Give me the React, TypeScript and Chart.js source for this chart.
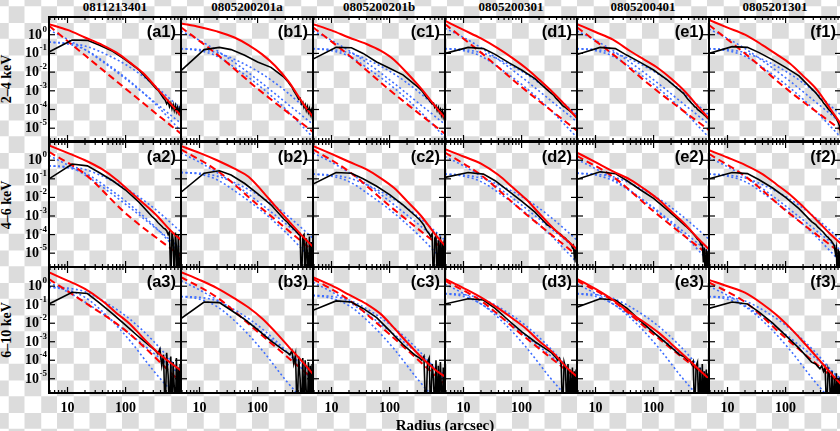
import React, { useEffect, useRef } from "react";
import { Chart, registerables } from "chart.js";

Chart.register(...registerables);

// ---------- text ----------
const OBS_IDS = ["0811213401", "0805200201a", "0805200201b", "0805200301", "0805200401", "0805201301"];
const BAND_LABELS = ["2–4 keV", "4–6 keV", "6–10 keV"];
const PANEL_TAGS = [
  "(a1)", "(b1)", "(c1)", "(d1)", "(e1)", "(f1)",
  "(a2)", "(b2)", "(c2)", "(d2)", "(e2)", "(f2)",
  "(a3)", "(b3)", "(c3)", "(d3)", "(e3)", "(f3)",
];
const X_TITLE = "Radius (arcsec)";

// ---------- ticks ----------
const X_MAJOR_TICKS = [10, 100];
const X_MAJOR_LABELS = ["10", "100"];
const X_MINOR_TICKS = [5, 6, 7, 8, 9, 20, 30, 40, 50, 60, 70, 80, 90, 200, 300, 400, 500, 600, 700, 800, 900];
const Y_TICKS = [1, 0.1, 0.01, 1e-3, 1e-4, 1e-5];
const Y_TICK_EXPONENTS = ["0", "-1", "-2", "-3", "-4", "-5"];

// ---------- radii (arcsec) ----------
const R_MODEL = [4.8, 10, 20, 40, 70, 120, 200, 350, 600, 900];
const R_DASH = [4.8, 20, 100, 900];
const R_BLUE = [4.8, 10, 20, 50, 120, 300, 900];
const R_OBS = [4.8, 12, 22, 35, 60, 100, 170, 280,
  330, 360, 390, 420, 450, 480, 510, 540, 570, 600, 630, 660, 690, 720, 750, 780, 810, 840, 870, 900];

// ---------- series (panels a1..f1, a2..f2, a3..f3) ----------
const TOTAL_MODEL = [
  [3.7, 1.8, 0.71, 0.28, 0.11, 0.032, 8.9e-3, 1.3e-3, 2.0e-4, 4.5e-5],
  [4.0, 2.6, 1.5, 0.71, 0.28, 0.089, 0.022, 2.8e-3, 2.2e-4, 4.0e-5],
  [3.7, 1.7, 0.71, 0.32, 0.14, 0.045, 8.9e-3, 1.3e-3, 1.6e-4, 3.5e-5],
  [5.6, 1.8, 0.63, 0.18, 0.056, 0.016, 4.0e-3, 7.9e-4, 1.4e-4, 3.5e-5],
  [3.7, 1.4, 0.54, 0.13, 0.045, 0.016, 4.5e-3, 8.9e-4, 1.3e-4, 3.2e-5],
  [6.2, 2.4, 1.0, 0.28, 0.089, 0.028, 6.3e-3, 1.1e-3, 1.0e-4, 1.6e-5],
  [6.3, 2.5, 1.0, 0.32, 0.089, 0.02, 5.0e-3, 1.0e-3, 1.6e-4, 5.0e-5],
  [5.9, 2.5, 1.0, 0.35, 0.13, 0.022, 3.5e-3, 5.0e-4, 7.9e-5, 2.2e-5],
  [5.9, 2.2, 0.83, 0.32, 0.11, 0.032, 6.3e-3, 1.0e-3, 1.1e-4, 2.5e-5],
  [3.9, 1.6, 0.66, 0.16, 0.035, 7.9e-3, 1.4e-3, 2.2e-4, 5.0e-5, 1.6e-5],
  [2.6, 0.79, 0.25, 0.089, 0.028, 7.9e-3, 1.8e-3, 3.5e-4, 5.6e-5, 1.6e-5],
  [3.5, 1.4, 0.56, 0.18, 0.05, 0.014, 3.2e-3, 5.6e-4, 1.0e-4, 3.2e-5],
  [5.5, 2.0, 0.71, 0.16, 0.035, 8.9e-3, 1.6e-3, 2.8e-4, 7.1e-5, 2.8e-5],
  [5.8, 2.2, 0.79, 0.22, 0.071, 0.018, 3.5e-3, 5.0e-4, 7.9e-5, 1.8e-5],
  [3.1, 1.1, 0.35, 0.11, 0.032, 5.4e-3, 9.3e-4, 1.5e-4, 3.2e-5, 1.3e-5],
  [2.5, 0.79, 0.25, 0.063, 0.018, 5.0e-3, 1.1e-3, 2.5e-4, 4.0e-5, 1.3e-5],
  [2.5, 0.71, 0.18, 0.035, 0.011, 3.2e-3, 7.9e-4, 1.6e-4, 3.2e-5, 1.0e-5],
  [2.2, 1.0, 0.45, 0.11, 0.028, 5.6e-3, 1.0e-3, 1.4e-4, 2.0e-5, 5.0e-6],
];

const POINT_SOURCE = [
  [3.0, 0.079, 1.3e-3, 5.0e-6],
  [2.5, 0.089, 1.3e-3, 6.3e-6],
  [2.5, 0.079, 1.1e-3, 5.0e-6],
  [3.7, 0.11, 1.6e-3, 7.4e-6],
  [2.5, 0.089, 1.4e-3, 7.9e-6],
  [3.3, 0.1, 1.4e-3, 7.9e-6],
  [2.8, 0.18, 1.4e-3, 6.8e-6],
  [3.9, 0.28, 4.0e-3, 1.3e-5],
  [3.9, 0.25, 3.5e-3, 1.4e-5],
  [2.6, 0.16, 2.0e-3, 7.6e-6],
  [1.7, 0.13, 1.8e-3, 7.6e-6],
  [2.2, 0.14, 2.0e-3, 1.0e-5],
  [2.4, 0.13, 4.0e-3, 6.3e-6],
  [3.1, 0.25, 3.5e-3, 1.0e-5],
  [2.5, 0.18, 2.5e-3, 5.0e-6],
  [2.0, 0.16, 2.5e-3, 1.0e-5],
  [2.0, 0.16, 2.5e-3, 1.0e-5],
  [1.6, 0.14, 1.6e-3, 5.0e-6],
];

const COMPONENT_1 = [
  [1.8, 0.56, 0.16, 0.022, 2.8e-3, 2.8e-4, 1.8e-5],
  [1.6, 0.5, 0.14, 0.02, 2.5e-3, 2.5e-4, 1.6e-5],
  [1.6, 0.5, 0.14, 0.02, 2.5e-3, 2.5e-4, 1.6e-5],
  [2.2, 0.71, 0.2, 0.028, 3.5e-3, 3.5e-4, 2.2e-5],
  [1.6, 0.5, 0.14, 0.02, 2.5e-3, 2.5e-4, 1.6e-5],
  [2.0, 0.63, 0.18, 0.025, 3.2e-3, 3.2e-4, 2.0e-5],
  [1.8, 0.56, 0.16, 0.022, 2.8e-3, 2.8e-4, 1.8e-5],
  [2.5, 0.79, 0.22, 0.032, 4.0e-3, 4.0e-4, 2.5e-5],
  [2.5, 0.79, 0.22, 0.032, 4.0e-3, 4.0e-4, 2.5e-5],
  [1.6, 0.5, 0.14, 0.02, 2.5e-3, 2.5e-4, 1.6e-5],
  [1.1, 0.35, 0.1, 0.014, 1.8e-3, 1.8e-4, 1.1e-5],
  [1.4, 0.45, 0.13, 0.018, 2.2e-3, 2.2e-4, 1.4e-5],
  [1.6, 0.5, 0.14, 0.02, 2.5e-3, 2.5e-4, 1.6e-5],
  [2.0, 0.63, 0.18, 0.025, 3.2e-3, 3.2e-4, 2.0e-5],
  [1.6, 0.5, 0.14, 0.02, 2.5e-3, 2.5e-4, 1.6e-5],
  [1.3, 0.4, 0.11, 0.016, 2.0e-3, 2.0e-4, 1.3e-5],
  [1.3, 0.4, 0.11, 0.016, 2.0e-3, 2.0e-4, 1.3e-5],
  [1.0, 0.32, 0.089, 0.013, 1.6e-3, 1.6e-4, 1.0e-5],
];

const COMPONENT_2 = [
  [0.4, 0.35, 0.25, 0.079, 0.018, 2.2e-3, 1.1e-4],
  [0.18, 0.16, 0.11, 0.035, 7.9e-3, 1.0e-3, 5.0e-5],
  [0.18, 0.16, 0.11, 0.035, 7.9e-3, 1.0e-3, 5.0e-5],
  [0.18, 0.16, 0.11, 0.035, 7.9e-3, 1.0e-3, 5.0e-5],
  [0.18, 0.16, 0.11, 0.035, 7.9e-3, 1.0e-3, 5.0e-5],
  [0.18, 0.16, 0.11, 0.035, 7.9e-3, 1.0e-3, 5.0e-5],
  [0.5, 0.45, 0.32, 0.1, 0.022, 2.8e-3, 1.4e-4],
  [0.22, 0.2, 0.14, 0.045, 0.01, 1.3e-3, 6.3e-5],
  [0.18, 0.16, 0.11, 0.035, 7.9e-3, 1.0e-3, 5.0e-5],
  [0.18, 0.16, 0.11, 0.035, 7.9e-3, 1.0e-3, 5.0e-5],
  [0.2, 0.18, 0.13, 0.04, 8.9e-3, 1.1e-3, 5.6e-5],
  [0.18, 0.16, 0.11, 0.035, 7.9e-3, 1.0e-3, 5.0e-5],
  [0.89, 0.79, 0.5, 0.11, 0.016, 1.1e-3, 2.2e-5],
  [0.28, 0.25, 0.16, 0.035, 5.0e-3, 3.5e-4, 7.1e-6],
  [0.32, 0.28, 0.18, 0.04, 5.6e-3, 4.0e-4, 7.9e-6],
  [0.4, 0.35, 0.22, 0.05, 7.1e-3, 5.0e-4, 1.0e-5],
  [0.4, 0.35, 0.22, 0.05, 7.1e-3, 5.0e-4, 1.0e-5],
  [0.28, 0.25, 0.16, 0.035, 5.0e-3, 3.5e-4, 7.1e-6],
];

const COMPONENT_3 = [
  [0.4, 0.32, 0.16, 0.025, 3.2e-3, 2.5e-4, 7.1e-6],
  [0.18, 0.14, 0.071, 0.011, 1.4e-3, 1.1e-4, 3.2e-6],
  [0.18, 0.14, 0.071, 0.011, 1.4e-3, 1.1e-4, 3.2e-6],
  [0.18, 0.14, 0.071, 0.011, 1.4e-3, 1.1e-4, 3.2e-6],
  [0.18, 0.14, 0.071, 0.011, 1.4e-3, 1.1e-4, 3.2e-6],
  [0.18, 0.14, 0.071, 0.011, 1.4e-3, 1.1e-4, 3.2e-6],
  [0.5, 0.4, 0.2, 0.032, 4.0e-3, 3.2e-4, 8.9e-6],
  [0.22, 0.18, 0.089, 0.014, 1.8e-3, 1.4e-4, 4.0e-6],
  [0.18, 0.14, 0.071, 0.011, 1.4e-3, 1.1e-4, 3.2e-6],
  [0.18, 0.14, 0.071, 0.011, 1.4e-3, 1.1e-4, 3.2e-6],
  [0.2, 0.16, 0.079, 0.013, 1.6e-3, 1.3e-4, 3.5e-6],
  [0.18, 0.14, 0.071, 0.011, 1.4e-3, 1.1e-4, 3.2e-6],
  [0.89, 0.63, 0.25, 0.022, 1.1e-3, 2.8e-5, 5.6e-7],
  [0.28, 0.2, 0.079, 7.1e-3, 3.5e-4, 8.9e-6, 1.8e-7],
  [0.32, 0.22, 0.089, 7.9e-3, 4.0e-4, 1.0e-5, 2.0e-7],
  [0.4, 0.28, 0.11, 0.01, 5.0e-4, 1.3e-5, 2.5e-7],
  [0.4, 0.28, 0.11, 0.01, 5.0e-4, 1.3e-5, 2.5e-7],
  [0.28, 0.2, 0.079, 7.1e-3, 3.5e-4, 8.9e-6, 1.8e-7],
];

const OBSERVED = [
  [0.12, 0.52, 0.5, 0.28, 0.13, 0.045, 0.013, 2.5e-3,
    1.4e-3, 1.1e-3, 7.9e-4, 5.6e-4, 4.0e-4, 3.2e-4, 2.0e-4, 2.8e-4, 1.4e-4, 2.2e-4, 1.1e-4, 1.8e-4, 8.9e-5, 1.6e-4, 7.9e-5, 1.3e-4, 7.1e-5, 1.1e-4, 6.3e-5, 8.9e-5],
  [0.012, 0.16, 0.21, 0.16, 0.079, 0.035, 0.018, 5.6e-3,
    3.2e-3, 2.2e-3, 1.6e-3, 1.0e-3, 7.1e-4, 5.0e-4, 3.5e-4, 4.0e-4, 2.0e-4, 2.5e-4, 1.3e-4, 1.8e-4, 8.9e-5, 1.4e-4, 7.1e-5, 1.1e-4, 5.6e-5, 8.9e-5, 4.5e-5, 6.3e-5],
  [0.05, 0.21, 0.2, 0.1, 0.035, 0.016, 7.1e-3, 2.0e-3,
    1.3e-3, 1.0e-3, 7.1e-4, 5.0e-4, 4.0e-4, 3.2e-4, 2.5e-4, 2.0e-4, 2.2e-4, 1.3e-4, 1.6e-4, 8.9e-5, 1.3e-4, 7.1e-5, 1.0e-4, 5.0e-5, 7.9e-5, 4.0e-5, 6.3e-5, 3.5e-5],
  [0.1, 0.21, 0.18, 0.089, 0.032, 0.013, 4.5e-3, 1.1e-3,
    7.1e-4, 5.6e-4, 4.0e-4, 3.2e-4, 2.5e-4, 2.0e-4, 1.6e-4, 1.4e-4, 1.3e-4, 1.1e-4, 1.0e-4, 8.9e-5, 7.9e-5, 7.1e-5, 6.3e-5, 5.6e-5, 5.0e-5, 4.5e-5, 4.0e-5, 3.5e-5],
  [0.087, 0.21, 0.18, 0.079, 0.032, 0.013, 4.0e-3, 1.1e-3,
    7.1e-4, 5.0e-4, 3.5e-4, 2.8e-4, 2.2e-4, 1.8e-4, 1.4e-4, 1.3e-4, 1.0e-4, 8.9e-5, 7.9e-5, 7.1e-5, 6.3e-5, 5.6e-5, 5.0e-5, 4.5e-5, 4.0e-5, 3.5e-5, 3.2e-5, 2.8e-5],
  [0.1, 0.23, 0.21, 0.11, 0.045, 0.018, 6.3e-3, 1.3e-3,
    7.9e-4, 5.6e-4, 4.0e-4, 3.2e-4, 2.2e-4, 1.8e-4, 1.4e-4, 1.1e-4, 8.9e-5, 7.9e-5, 6.3e-5, 5.6e-5, 4.5e-5, 4.0e-5, 3.2e-5, 2.5e-5, 2.0e-5, 1.4e-5, 7.9e-6, 3.2e-6],
  [0.1, 0.63, 0.5, 0.22, 0.079, 0.025, 5.6e-3, 1.0e-3,
    6.3e-4, 4.5e-4, 3.5e-4, 2.8e-4, 2.2e-4, 2.0e-4, 1.6e-4, 1.0e-4, 1.4e-4, 3.2e-7, 1.3e-4, 5.0e-5, 1e-7, 1.3e-4, 2.0e-5, 1e-7, 1.0e-4, 2.5e-6, 1e-7, 6.3e-5],
  [0.019, 0.2, 0.27, 0.16, 0.056, 0.016, 4.0e-3, 7.1e-4,
    4.5e-4, 3.2e-4, 2.5e-4, 2.0e-4, 1.6e-4, 1.3e-4, 1.0e-4, 1.1e-4, 1e-7, 7.9e-5, 1.0e-4, 1e-7, 6.3e-5, 1.0e-5, 1e-7, 7.9e-5, 1e-7, 4.0e-5, 1e-7, 3.2e-5],
  [0.052, 0.22, 0.2, 0.1, 0.04, 0.014, 4.0e-3, 1.0e-3,
    6.3e-4, 4.5e-4, 3.2e-4, 2.0e-4, 1.4e-4, 1.1e-4, 7.9e-5, 1.1e-4, 1e-7, 6.3e-5, 8.9e-5, 1e-7, 5.0e-5, 1e-6, 7.9e-5, 1e-7, 4.0e-5, 1e-7, 5.0e-5, 1e-7],
  [0.12, 0.22, 0.18, 0.079, 0.022, 6.3e-3, 1.6e-3, 3.2e-4,
    2.5e-4, 2.0e-4, 1.6e-4, 1.3e-4, 1.1e-4, 1.0e-4, 7.9e-5, 7.1e-5, 6.3e-5, 5.0e-5, 4.5e-5, 4.0e-5, 3.2e-5, 2.8e-5, 2.0e-5, 2.5e-5, 6.3e-6, 1.6e-5, 3.2e-6, 1.3e-5],
  [0.095, 0.24, 0.19, 0.079, 0.025, 8.9e-3, 2.2e-3, 5.6e-4,
    3.5e-4, 2.8e-4, 2.2e-4, 1.8e-4, 1.4e-4, 1.1e-4, 8.9e-5, 7.1e-5, 5.6e-5, 5.0e-5, 4.0e-5, 2.8e-5, 3.2e-5, 3.2e-6, 2.0e-5, 1e-7, 1.6e-5, 1e-7, 1.3e-5, 1e-7],
  [0.1, 0.22, 0.19, 0.089, 0.032, 0.01, 2.5e-3, 5.0e-4,
    3.5e-4, 2.5e-4, 2.0e-4, 1.6e-4, 1.3e-4, 1.0e-4, 7.9e-5, 7.1e-5, 5.6e-5, 5.0e-5, 4.0e-5, 3.2e-5, 2.5e-5, 1.0e-5, 2.0e-5, 1e-7, 1.6e-5, 1e-7, 1.3e-5, 1e-7],
  [0.11, 0.47, 0.4, 0.13, 0.032, 7.9e-3, 1.8e-3, 5.0e-4,
    3.2e-4, 2.2e-4, 4.0e-4, 5.0e-5, 2.0e-4, 1e-7, 2.5e-4, 1.6e-5, 1e-7, 1.6e-4, 1e-7, 7.9e-5, 3.2e-6, 1e-7, 1.3e-4, 1e-7, 4.0e-5, 1e-7, 6.3e-5, 1e-7],
  [0.018, 0.14, 0.13, 0.05, 0.016, 4.5e-3, 1.1e-3, 3.5e-4,
    2.5e-4, 2.0e-4, 3.2e-4, 6.3e-5, 2.0e-4, 1e-7, 1.6e-4, 1.0e-5, 1e-7, 1.3e-4, 1e-7, 1.0e-4, 1.6e-6, 1e-7, 7.9e-5, 1e-7, 5.0e-5, 1e-7, 6.3e-5, 1e-7],
  [0.05, 0.16, 0.14, 0.063, 0.02, 4.0e-3, 7.1e-4, 1.8e-4,
    1.3e-4, 1.0e-4, 1.6e-4, 1e-7, 7.9e-5, 1.3e-4, 1e-7, 6.3e-5, 1.0e-5, 1e-7, 1.0e-4, 1e-7, 5.0e-5, 1e-7, 7.9e-5, 3.2e-6, 1e-7, 4.0e-5, 1e-7, 3.2e-5],
  [0.11, 0.21, 0.18, 0.063, 0.014, 3.5e-3, 1.0e-3, 3.5e-4,
    2.5e-4, 1.8e-4, 1.4e-4, 1.0e-4, 1.3e-4, 6.3e-5, 1e-7, 7.9e-5, 4.0e-5, 1e-7, 6.3e-5, 1e-7, 3.2e-5, 1e-7, 4.0e-5, 1e-7, 2.5e-5, 1e-7, 3.2e-5, 1e-7],
  [0.074, 0.21, 0.18, 0.063, 0.013, 3.2e-3, 7.9e-4, 2.0e-4,
    1.6e-4, 1.3e-4, 1.0e-4, 1.1e-4, 6.3e-5, 8.9e-5, 1e-7, 5.0e-5, 7.9e-5, 1e-7, 4.0e-5, 1e-7, 6.3e-5, 1e-7, 2.5e-5, 1e-7, 3.2e-5, 1e-7, 2.0e-5, 1e-7],
  [0.063, 0.14, 0.11, 0.04, 0.01, 2.2e-3, 4.5e-4, 7.9e-5,
    6.3e-5, 4.5e-5, 3.5e-5, 5.0e-5, 2.5e-5, 4.0e-5, 1e-7, 3.2e-5, 1.6e-5, 1e-7, 2.5e-5, 1e-7, 1.3e-5, 1e-7, 2.0e-5, 1e-7, 1.0e-5, 1e-7, 1.3e-5, 1e-7],
];

// ---------- layout / style (not data) ----------
const GRID_LEFT = 49;
const PANEL_W = 132;
const ROW_TOP = [17, 142, 267];
const ROW_H = [124, 125, 126];
const X_MIN = 4.8;
const X_MAX = 900;
const Y_MAX = [8.85, 9.6, 10.9];
const Y_MIN = [2.07e-6, 1.8e-6, 1.7e-6];
const SERIF = "'Liberation Serif', 'Times New Roman', serif";
const SANS = "'Liberation Sans', Arial, sans-serif";
const RED = "#ff0000";
const BLUE = "#3f6fff";

const pts = (xs: number[], ys: number[]) => xs.map((x, k) => ({ x, y: ys[k] }));

const framePlugin = {
  id: "panelFrame",
  afterDatasetsDraw(chart: any) {
    const o = chart.options.plugins.panelFrame;
    const { ctx, chartArea: a, scales } = chart;
    const xs = scales.x;
    const ys = scales.y;
    ctx.save();
    ctx.strokeStyle = "#000";
    ctx.lineWidth = 1.2;
    const line = (x1: number, y1: number, x2: number, y2: number) => {
      ctx.beginPath();
      ctx.moveTo(x1, y1);
      ctx.lineTo(x2, y2);
      ctx.stroke();
    };
    for (const v of X_MAJOR_TICKS) {
      const px = xs.getPixelForValue(v);
      line(px, a.bottom, px, a.bottom - 6);
      line(px, a.top, px, a.top + 6);
    }
    for (const v of X_MINOR_TICKS) {
      const px = xs.getPixelForValue(v);
      if (px <= a.left + 1 || px >= a.right - 1) continue;
      line(px, a.bottom, px, a.bottom - 3);
      line(px, a.top, px, a.top + 3);
    }
    for (const v of Y_TICKS) {
      const py = ys.getPixelForValue(v);
      line(a.left, py, a.left + 6, py);
      line(a.right, py, a.right - 6, py);
    }
    ctx.lineWidth = 2;
    ctx.strokeRect(a.left, a.top, a.right - a.left, a.bottom - a.top);

    ctx.fillStyle = "#000";
    ctx.font = `bold 16.5px ${SANS}`;
    ctx.textAlign = "right";
    ctx.textBaseline = "alphabetic";
    ctx.fillText(o.tag, a.right - 5, a.top + 20);

    if (o.col === 0) {
      Y_TICKS.forEach((v, k) => {
        const py = ys.getPixelForValue(v);
        ctx.font = `bold 9px ${SERIF}`;
        const exp = Y_TICK_EXPONENTS[k];
        const wExp = ctx.measureText(exp).width;
        ctx.textAlign = "right";
        ctx.fillText(exp, a.left - 2, py - 3);
        ctx.font = `bold 14px ${SERIF}`;
        ctx.fillText("10", a.left - 2.5 - wExp, py + 4);
      });
    }
    if (o.row === 2) {
      ctx.font = `bold 14px ${SERIF}`;
      ctx.textAlign = "center";
      X_MAJOR_TICKS.forEach((v, k) => {
        const px = xs.getPixelForValue(v);
        ctx.fillText(X_MAJOR_LABELS[k], px, a.bottom + 19);
      });
    }
    ctx.restore();
  },
};

function Panel({ col, row }: { col: number; row: number }) {
  const ref = useRef<HTMLCanvasElement>(null);
  const padL = col === 0 ? GRID_LEFT : 2;
  const padR = 2;
  const padT = 2;
  const padB = row === 2 ? 38 : 2;
  const w = PANEL_W + padL + padR;
  const h = ROW_H[row] + padT + padB;
  const left = GRID_LEFT + PANEL_W * col - padL;
  const top = ROW_TOP[row] - padT;

  useEffect(() => {
    const i = row * 6 + col;
    const blue = (data: number[]) => ({
      data: pts(R_BLUE, data),
      borderColor: BLUE,
      borderWidth: 1.6,
      borderDash: [2, 2.5],
      cubicInterpolationMode: "monotone",
    });
    const chart = new Chart(ref.current as HTMLCanvasElement, {
      type: "line",
      data: {
        datasets: [
          {
            data: pts(R_MODEL, TOTAL_MODEL[i]),
            borderColor: RED,
            borderWidth: 2,
            cubicInterpolationMode: "monotone",
          },
          {
            data: pts(R_OBS, OBSERVED[i]),
            borderColor: "#000",
            borderWidth: 1.6,
          },
          {
            data: pts(R_DASH, POINT_SOURCE[i]),
            borderColor: RED,
            borderWidth: 2,
            borderDash: [7, 4],
            cubicInterpolationMode: "monotone",
          },
          blue(COMPONENT_1[i]),
          blue(COMPONENT_2[i]),
          blue(COMPONENT_3[i]),
        ],
      },
      options: {
        responsive: false,
        animation: false,
        events: [],
        elements: { point: { radius: 0 }, line: { tension: 0, fill: false } },
        layout: { padding: { left: 0, right: padR, top: padT, bottom: 0 } },
        plugins: {
          legend: { display: false },
          tooltip: { enabled: false },
          title: { display: false },
          panelFrame: { col, row, tag: PANEL_TAGS[i] },
        } as any,
        scales: {
          x: {
            type: "logarithmic",
            min: X_MIN,
            max: X_MAX,
            ticks: { display: false },
            grid: { display: false },
            border: { display: false },
            afterFit: (s: any) => {
              s.height = padB;
            },
          },
          y: {
            type: "logarithmic",
            min: Y_MIN[row],
            max: Y_MAX[row],
            ticks: { display: false },
            grid: { display: false },
            border: { display: false },
            afterFit: (s: any) => {
              s.width = padL;
            },
          },
        },
      },
      plugins: [framePlugin],
    } as any);
    return () => chart.destroy();
  }, []);

  return (
    <canvas
      ref={ref}
      width={w}
      height={h}
      style={{ position: "absolute", left, top, width: w, height: h, display: "block" }}
    />
  );
}

export default function App() {
  const panels = [];
  for (let row = 0; row < 3; row++) {
    for (let col = 0; col < 6; col++) {
      panels.push(<Panel key={`${row}-${col}`} col={col} row={row} />);
    }
  }
  return (
    <div
      style={{
        position: "absolute",
        left: 0,
        top: 0,
        width: 840,
        height: 431,
        overflow: "hidden",
        backgroundColor: "#ffffff",
        backgroundImage:
          "conic-gradient(#dcdcdc 25%, transparent 0 50%, #dcdcdc 0 75%, transparent 0)",
        backgroundSize: "32.5px 32.5px",
        backgroundPosition: "24.5px 6.25px",
      }}
    >
      {OBS_IDS.map((t, c) => (
        <div
          key={t}
          style={{
            position: "absolute",
            left: GRID_LEFT + PANEL_W * c,
            top: 0,
            width: PANEL_W,
            textAlign: "center",
            font: `bold 13px ${SERIF}`,
            lineHeight: "13px",
            color: "#000",
            whiteSpace: "nowrap",
          }}
        >
          {t}
        </div>
      ))}
      {BAND_LABELS.map((t, r) => (
        <div
          key={t}
          style={{
            position: "absolute",
            left: 7 - 50,
            top: ROW_TOP[r] + ROW_H[r] / 2 - 8,
            width: 100,
            height: 16,
            lineHeight: "16px",
            textAlign: "center",
            font: `bold 14px ${SERIF}`,
            color: "#000",
            transform: "rotate(-90deg)",
            whiteSpace: "nowrap",
          }}
        >
          {t}
        </div>
      ))}
      {panels}
      <div
        style={{
          position: "absolute",
          left: GRID_LEFT,
          top: 418,
          width: PANEL_W * 6,
          textAlign: "center",
          font: `bold 15px ${SERIF}`,
          lineHeight: "15px",
          color: "#000",
          whiteSpace: "nowrap",
        }}
      >
        {X_TITLE}
      </div>
    </div>
  );
}
